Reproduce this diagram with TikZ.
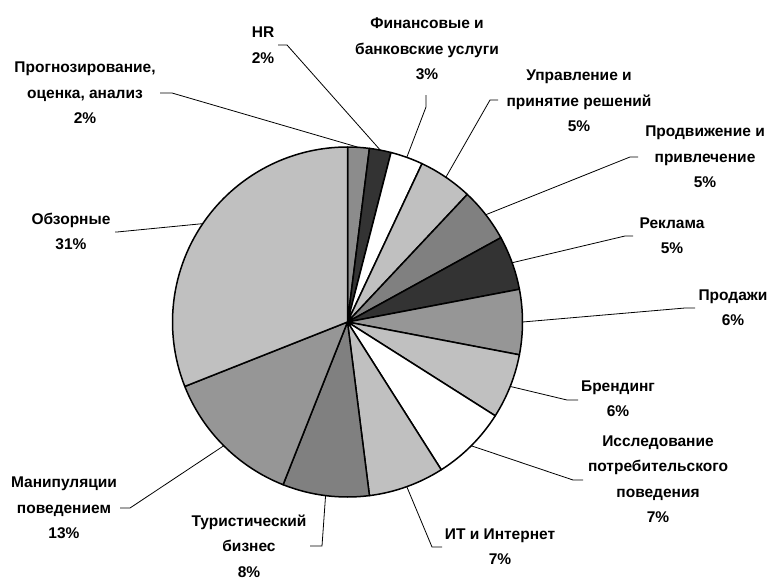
\documentclass[tikz,border=0pt]{standalone}
\usepackage{fontspec}
\setmainfont{Liberation Sans}
\usetikzlibrary{calc}
\definecolor{cA}{HTML}{8C8C8C}
\definecolor{cD}{HTML}{333333}
\definecolor{cL}{HTML}{C0C0C0}
\definecolor{cM}{HTML}{808080}
\definecolor{cN}{HTML}{969696}
\tikzset{
  slice/.style={draw=black,line width=1.5pt,line join=round},
  leader/.style={draw=black,line width=0.8pt},
  lbl/.style={align=center,inner sep=0pt,font={\fontsize{15.5}{25.5}\selectfont\bfseries}}
}
\begin{document}
\begin{tikzpicture}[x=1pt,y=-1pt]
\useasboundingbox[fill=white] (0,0) rectangle (770,581);
\coordinate (C) at (347.5,322);
% slices
\foreach \a/\b/\c in {90/82.8/cA, 82.8/75.6/cD, 75.6/64.8/white, 64.8/46.8/cL,
  46.8/28.8/cM, 28.8/10.8/cD, 10.8/-10.8/cN, -10.8/-32.4/cL, -32.4/-57.6/white,
  -57.6/-82.8/cL, -82.8/-111.6/cM, -111.6/-158.4/cN, -158.4/-270/cL}{
  \filldraw[slice,fill=\c] (C) -- ($(C)+(\a:175pt)$) arc[start angle=\a,end angle=\b,radius=175pt] -- cycle;
}
% mid points on the rim
\foreach \n/\m in {m1/86.4, m2/79.2, m3/70.2, m4/55.8, m5/37.8, m6/19.8, m7/0,
  m8/-21.6, m9/-45, m10/-70.2, m11/-97.2, m12/-135, m13/145.8}{
  \coordinate (\n) at ($(C)+(\m:175pt)$);
}
% labels
\node[lbl] (l1) at (85,93) {Прогнозирование,\\оценка, анализ\\2\%};
\node[lbl] (l2) at (263,45) {HR\\2\%};
\node[lbl] (l3) at (427,49) {Финансовые и\\банковские услуги\\3\%};
\node[lbl] (l4) at (579,101) {Управление и\\принятие решений\\5\%};
\node[lbl] (l5) at (705,157) {Продвижение и\\привлечение\\5\%};
\node[lbl] (l6) at (672,235.5) {Реклама\\5\%};
\node[lbl] (l7) at (733,307.5) {Продажи\\6\%};
\node[lbl] (l8) at (618,398.5) {Брендинг\\6\%};
\node[lbl] (l9) at (658,479) {Исследование\\потребительского\\поведения\\7\%};
\node[lbl] (l10) at (500,546.5) {ИТ и Интернет\\7\%};
\node[lbl] (l11) at (249,546) {Туристический\\бизнес\\8\%};
\node[lbl] (l12) at (64,508) {Манипуляции\\поведением\\13\%};
\node[lbl] (l13) at (71,231.5) {Обзорные\\31\%};
% leader elbows
\coordinate (s1) at (160,93);  \coordinate (e1) at (172,93);
\coordinate (s2) at (278,45);  \coordinate (e2) at (287,45);
\coordinate (s3) at (426,95);  \coordinate (e3) at (426,107);
\coordinate (s4) at (498,100); \coordinate (e4) at (490,100);
\coordinate (s5) at (638,157); \coordinate (e5) at (630,157);
\coordinate (s6) at (633,236); \coordinate (e6) at (625,236);
\coordinate (s7) at (695,308); \coordinate (e7) at (685,308);
\coordinate (s8) at (578,400); \coordinate (e8) at (567,400);
\coordinate (s9) at (583,480); \coordinate (e9) at (573,480);
\coordinate (s10) at (442,547); \coordinate (e10) at (432,547);
\coordinate (s11) at (310,546); \coordinate (e11) at (322,546);
\coordinate (s12) at (120,508); \coordinate (e12) at (130,508);
\coordinate (s13) at (115,232); \coordinate (e13) at (117,232);
\foreach \i in {1,...,13}{
  \draw[leader] (s\i) -- (e\i) -- (m\i);
}
\end{tikzpicture}
\end{document}
